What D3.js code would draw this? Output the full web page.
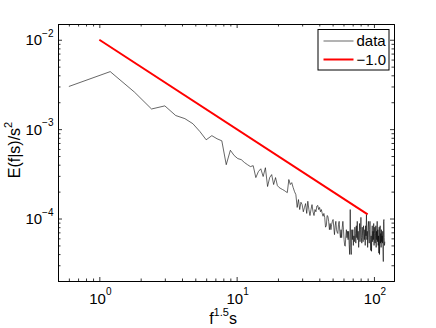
<!DOCTYPE html>
<html><head><meta charset="utf-8">
<script src="https://cdn.jsdelivr.net/npm/d3@7"></script>
<style>
body{margin:0;background:#fff}
svg{display:block}
text{font-family:"Liberation Sans",Arial,Helvetica,sans-serif;fill:#000}
</style>
</head><body>
<svg id="c" width="436" height="328"></svg>
<script>
// ---- data ----
const xData = [
0.6,1.2,1.8,2.4,3.0,3.6,4.2,4.8,5.4,6.0,
6.6,7.2,7.8,8.4,9.0,9.6,10.2,10.8,11.4,12.0,
12.6,13.2,13.8,14.4,15.0,15.6,16.2,16.8,17.4,18.0,
18.6,19.2,19.8,20.4,21.0,21.6,22.2,22.8,23.4,24.0,
24.6,25.2,25.8,26.4,27.0,27.6,28.2,28.8,29.4,30.0,
30.6,31.2,31.8,32.4,33.0,33.6,34.2,34.8,35.4,36.0,
36.6,37.2,37.8,38.4,39.0,39.6,40.2,40.8,41.4,42.0,
42.6,43.2,43.8,44.4,45.0,45.6,46.2,46.8,47.4,48.0,
48.6,49.2,49.8,50.4,51.0,51.6,52.2,52.8,53.4,54.0,
54.6,55.2,55.8,56.4,57.0,57.6,58.2,58.8,59.4,60.0,
60.6,61.2,61.8,62.4,63.0,63.6,64.2,64.8,65.4,66.0,
66.6,67.2,67.8,68.4,69.0,69.6,70.2,70.8,71.4,72.0,
72.6,73.2,73.8,74.4,75.0,75.6,76.2,76.8,77.4,78.0,
78.6,79.2,79.8,80.4,81.0,81.6,82.2,82.8,83.4,84.0,
84.6,85.2,85.8,86.4,87.0,87.6,88.2,88.8,89.4,90.0,
90.6,91.2,91.8,92.4,93.0,93.6,94.2,94.8,95.4,96.0,
96.6,97.2,97.8,98.4,99.0,99.6,100.2,100.8,101.4,102.0,
102.6,103.2,103.8,104.4,105.0,105.6,106.2,106.8,107.4,108.0,
108.6,109.2,109.8,110.4,111.0,111.6,112.2,112.8,113.4,114.0,
114.6,115.2,115.8,116.4,117.0,117.6,118.2,118.8,119.4,120.0
];
const yData = [
3.0e-3,4.4e-3,2.6e-3,1.68e-3,1.82e-3,1.42e-3,1.31e-3,1.15e-3,9.4e-4,7.6e-4,
8.45e-4,7.8e-4,7.4e-4,4.0e-4,5.8e-4,5.06e-4,4.68e-4,4.56e-4,4.23e-4,4.0e-4,
3.81e-4,3.9e-4,2.87e-4,3.35e-4,3.6e-4,2.95e-4,3.7e-4,2.28e-4,2.87e-4,3.1e-4,
2.4e-4,2.87e-4,2.34e-4,2.22e-4,2.16e-4,2.11e-4,2.06e-4,2.0e-4,1.95e-4,2.73e-4,
2.4e-4,2.52e-4,2.22e-4,2.0e-4,1.85e-4,1.33e-4,1.63e-4,1.26e-4,1.52e-4,1.43e-4,
1.19e-4,1.33e-4,1.47e-4,1.14e-4,1.56e-4,1.26e-4,1.08e-4,1.26e-4,1.43e-4,1.19e-4,
1.08e-4,1.26e-4,1.19e-4,1.38e-4,1.40e-4,1.26e-4,1.33e-4,1.19e-4,1.26e-4,1.14e-4,
1.06e-4,1.14e-4,1.03e-4,8.0e-5,8.3e-5,1.08e-4,1.06e-4,9.3e-5,7.5e-5,8.8e-5,
7.5e-5,8.6e-5,9.3e-5,9.75e-5,8.0e-5,6.6e-5,8.3e-5,9.3e-5,7.5e-5,7.0e-5,
6.8e-5,8.6e-5,9.3e-5,7.2e-5,6.1e-5,7.5e-5,6.1e-5,8.0e-5,9.3e-5,7.5e-5,
5.8e-5,5.0e-5,4.9e-5,6.4e-5,7.5e-5,6.1e-5,7.2e-5,5.8e-5,7.2e-5,5.1e-5,
3.96e-5,1.26e-4,4.75e-5,3.96e-5,7.5e-5,5.8e-5,7.5e-5,5.0e-5,6.4e-5,5.5e-5,
8.0e-5,6.8e-5,5.3e-5,8.3e-5,6.1e-5,9.3e-5,5.8e-5,7.2e-5,4.75e-5,6.4e-5,
8.8e-5,5.5e-5,7.5e-5,1.03e-4,6.1e-5,5.3e-5,8.0e-5,6.4e-5,5.5e-5,8.3e-5,
6.8e-5,5.8e-5,7.5e-5,5.0e-5,8.3e-5,6.4e-5,1.11e-4,5.8e-5,7.2e-5,4.75e-5,
8.0e-5,9.3e-5,6.1e-5,5.3e-5,7.5e-5,9.3e-5,5.8e-5,4.4e-5,6.4e-5,4.3e-5,
6.8e-5,8.3e-5,5.5e-5,7.2e-5,5.8e-5,8.8e-5,5.0e-5,6.8e-5,8.0e-5,5.3e-5,
6.4e-5,8.3e-5,4.75e-5,7.2e-5,5.8e-5,9.3e-5,5.5e-5,7.5e-5,5.0e-5,6.4e-5,
4.1e-5,8.0e-5,3.96e-5,5.8e-5,8.3e-5,5.3e-5,6.8e-5,4.75e-5,7.5e-5,5.5e-5,
6.4e-5,5.3e-5,7.2e-5,4.5e-5,3.3e-5,9.3e-5,9.75e-5,6.1e-5,5.0e-5,5.5e-5
];
const fitX = [1, 90];
const fitY = [0.01, 0.0001111];
const xTickValues = [1, 10, 100];
const xTickExps = ["0", "1", "2"];
const yTickValues = [1e-4, 1e-3, 1e-2];
const yTickExps = ["\u22124", "\u22123", "\u22122"];
const legendLabels = ["data", "\u22121.0"];
const xDomain = [0.5, 140];
const yDomain = [2e-5, 1.5e-2];

// ---- layout ----
const L = 58, R = 394, T = 24, B = 281;
const svg = d3.select("#c");
const x = d3.scaleLog().domain(xDomain).range([L, R]);
const y = d3.scaleLog().domain(yDomain).range([B, T]);

const xMinor = x.ticks().filter(v => !xTickValues.some(t => Math.abs(t - v) < 1e-9));
const yMinor = y.ticks().filter(v => !yTickValues.some(t => Math.abs(t / v - 1) < 1e-6));

function addAxis(axisFn, scale, pos, transform) {
  const g1 = svg.append("g").attr("transform", transform)
    .call(axisFn(scale).tickValues(pos === "x" ? xTickValues : yTickValues).tickSizeInner(-4).tickSizeOuter(0).tickFormat(""));
  const g2 = svg.append("g").attr("transform", transform)
    .call(axisFn(scale).tickValues(pos === "x" ? xMinor : yMinor).tickSizeInner(-2.5).tickSizeOuter(0).tickFormat(""));
  [g1, g2].forEach(g => { g.selectAll("line").attr("stroke", "#000").attr("stroke-width", 0.8);
    g.select(".domain").attr("stroke", "#000").attr("stroke-width", 1); });
}
addAxis(d3.axisBottom, x, "x", `translate(0,${B})`);
addAxis(d3.axisTop, x, "x", `translate(0,${T})`);
addAxis(d3.axisLeft, y, "y", `translate(${L},0)`);
addAxis(d3.axisRight, y, "y", `translate(${R},0)`);

// tick labels
xTickValues.forEach((v, i) => {
  const t = svg.append("text").attr("x", x(v) + 1).attr("y", B + 22.5)
    .attr("text-anchor", "middle").attr("font-size", 15);
  t.append("tspan").text("10");
  t.append("tspan").attr("font-size", 10).attr("dy", -8.5).text(xTickExps[i]);
});
yTickValues.forEach((v, i) => {
  const t = svg.append("text").attr("x", L - 4.5).attr("y", y(v) + 5.5)
    .attr("text-anchor", "end").attr("font-size", 15);
  t.append("tspan").text("10");
  t.append("tspan").attr("font-size", 10).attr("dy", -8.5).text(yTickExps[i]);
});

// axis labels
const xl = svg.append("text").attr("x", 223).attr("y", 324).attr("text-anchor", "middle").attr("font-size", 16);
xl.append("tspan").text("f");
xl.append("tspan").attr("font-size", 11).attr("dy", -8).text("1.5");
xl.append("tspan").attr("dy", 8).text("s");

const yl = svg.append("text").attr("transform", `translate(19.5,150) rotate(-90)`)
  .attr("text-anchor", "middle").attr("font-size", 16);
yl.append("tspan").text("E(f|s)/s");
yl.append("tspan").attr("font-size", 11).attr("dy", -8).text("2");

// data
const pts = xData.map((v, i) => [v, yData[i]]);
const line = d3.line().x(d => x(d[0])).y(d => y(d[1]));
svg.append("path").datum(pts).attr("d", line)
  .attr("fill", "none").attr("stroke", "#000").attr("stroke-width", 0.6).attr("stroke-linejoin", "round");

const fit = fitX.map((v, i) => [v, fitY[i]]);
svg.append("path").datum(fit).attr("d", line)
  .attr("fill", "none").attr("stroke", "#ff0000").attr("stroke-width", 2);

// legend
const lg = svg.append("g");
lg.append("rect").attr("x", 318).attr("y", 29.5).attr("width", 71).attr("height", 40.5)
  .attr("fill", "#fff").attr("stroke", "#000").attr("stroke-width", 1);
const legendColors = ["#000", "#ff0000"];
const legendWidths = [0.6, 2];
const legendY = [41, 59.5];
legendLabels.forEach((lab, i) => {
  lg.append("line").attr("x1", 323.5).attr("x2", 353.5).attr("y1", legendY[i]).attr("y2", legendY[i])
    .attr("stroke", legendColors[i]).attr("stroke-width", legendWidths[i]);
  lg.append("text").attr("x", 356.5).attr("y", legendY[i] + 5.2).attr("font-size", 15).text(lab);
});
</script>
</body></html>
